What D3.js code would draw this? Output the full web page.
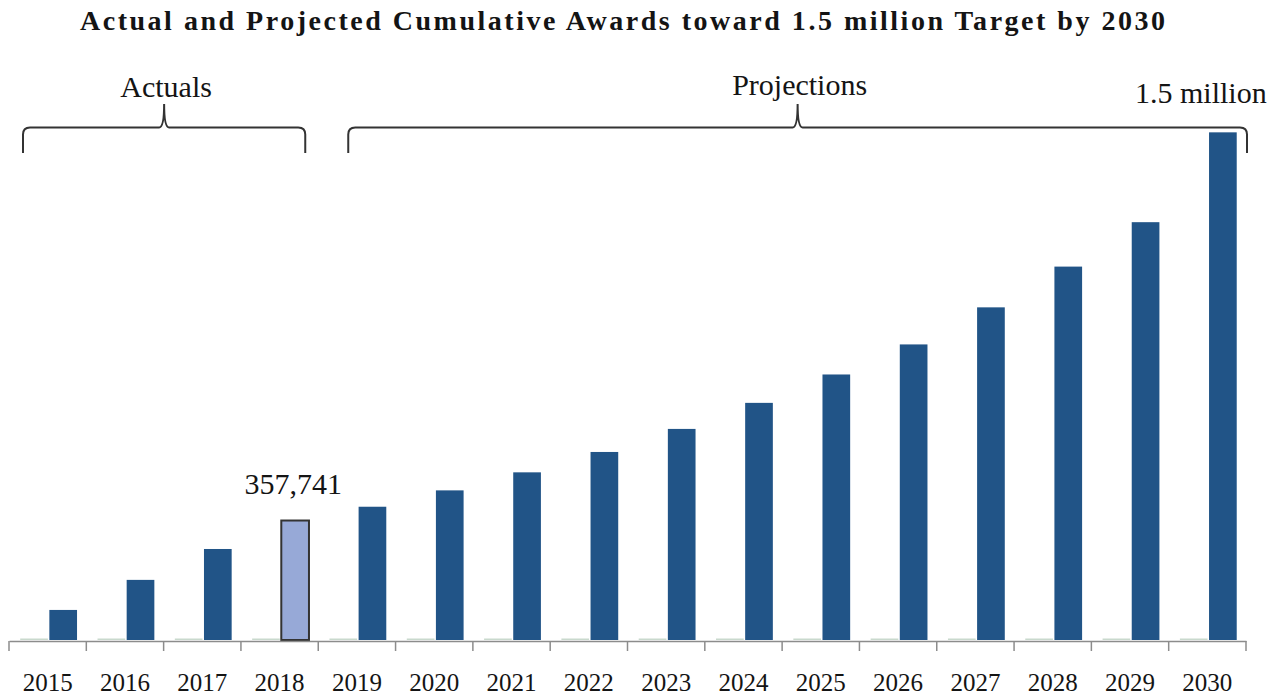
<!DOCTYPE html>
<html>
<head>
<meta charset="utf-8">
<script src="https://cdn.jsdelivr.net/npm/d3@7/dist/d3.min.js"></script>
<style>
  body { margin: 0; background: #fff; }
  text { font-family: 'Liberation Serif', 'Times New Roman', serif; fill: #141414; }
</style>
</head>
<body>
<script>
/* global d3 */

// Constants
const width = 1286;
const height = 696;

const titleText = 'Actual and Projected Cumulative Awards toward 1.5 million Target by 2030';

// Data
const years = ['2015', '2016', '2017', '2018', '2019', '2020', '2021', '2022',
  '2023', '2024', '2025', '2026', '2027', '2028', '2029', '2030'];
const awards = [90000, 180000, 272500, 357741, 399000, 448000, 502000, 563000,
  632000, 710000, 795000, 885000, 996000, 1118000, 1251000, 1520000];
const baseline = [0, 0, 0, 0, 0, 0, 0, 0, 0, 0, 0, 0, 0, 0, 0, 0];
const seriesNames = ['base', 'awards'];
const groupLabels = ['Actuals', 'Projections'];
const groupFrom = ['2015', '2019'];
const groupTo = ['2018', '2030'];
const lastActual = '2018';
const lastActualLabel = '357,741';
const targetLabel = '1.5 million';

const svg = d3.select('body')
  .append('svg')
  .attr('width', width)
  .attr('height', height);

// Title
svg.append('text')
  .attr('x', 80)
  .attr('y', 30)
  .attr('font-size', '28px')
  .attr('font-weight', 'bold')
  .attr('textLength', 1085)
  .attr('lengthAdjust', 'spacing')
  .text(titleText);

// Scales
const x0 = d3.scaleBand()
  .domain(years)
  .range([9, 1246])
  .padding(0);

const bw = x0.bandwidth();
const x1 = d3.scaleBand()
  .domain(seriesNames)
  .range([bw * 0.145, bw * 0.88])
  .paddingInner(0.05);

const y = d3.scaleLinear()
  .domain([0, 1527000])
  .range([640, 130]);

const rows = years.map((yr, i) => ({ year: yr, base: baseline[i], awards: awards[i] }));

// Bars
const groups = svg.append('g')
  .selectAll('g')
  .data(rows)
  .join('g')
  .attr('transform', (d) => `translate(${x0(d.year)},0)`);

groups.append('rect')
  .attr('x', x1('base'))
  .attr('y', (d) => y(d.base) - 1.5)
  .attr('width', x1.bandwidth())
  .attr('height', (d) => y(0) - y(d.base) + 1.5)
  .attr('fill', '#c9d9cd');

groups.append('rect')
  .attr('x', x1('awards'))
  .attr('y', (d) => y(d.awards))
  .attr('width', x1.bandwidth())
  .attr('height', (d) => y(0) - y(d.awards))
  .attr('fill', (d) => (d.year === lastActual ? '#97a9d7' : '#215487'))
  .attr('stroke', (d) => (d.year === lastActual ? '#333' : 'none'))
  .attr('stroke-width', 2);

// Axis
const xAxis = d3.axisBottom(x0)
  .tickSizeInner(0)
  .tickSizeOuter(0)
  .tickPadding(32);

const xAxisG = svg.append('g')
  .attr('transform', 'translate(0,641)')
  .call(xAxis);

xAxisG.select('.domain').attr('stroke', '#8c8c8c').attr('stroke-width', 1.5);
xAxisG.selectAll('text')
  .attr('font-size', '25px')
  .attr('font-family', "'Liberation Serif', serif")
  .attr('fill', '#141414');

xAxisG.selectAll('.bound')
  .data(years.concat(['end']))
  .join('line')
  .attr('class', 'bound')
  .attr('x1', (d) => (d === 'end' ? x0.range()[1] : x0(d)))
  .attr('x2', (d) => (d === 'end' ? x0.range()[1] : x0(d)))
  .attr('y1', 0)
  .attr('y2', 10)
  .attr('stroke', '#8c8c8c')
  .attr('stroke-width', 1.5);

// Value labels
svg.append('text')
  .attr('x', x0(lastActual) + x1('awards') + x1.bandwidth() / 2 - 2)
  .attr('y', y(awards[years.indexOf(lastActual)]) - 27)
  .attr('text-anchor', 'middle')
  .attr('font-size', '30px')
  .text(lastActualLabel);

svg.append('text')
  .attr('x', x0('2030') + x1('awards') + x1.bandwidth() / 2 - 22)
  .attr('y', 103)
  .attr('text-anchor', 'middle')
  .attr('font-size', '30px')
  .text(targetLabel);

// Brackets
function bracket(left, right, yh, yend, ypeak) {
  const mid = (left + right) / 2;
  const r = 7;
  return `M${left},${yend} L${left},${yh + r} Q${left},${yh} ${left + r},${yh}`
    + ` L${mid - 5},${yh} Q${mid},${yh} ${mid},${ypeak}`
    + ` Q${mid},${yh} ${mid + 5},${yh} L${right - r},${yh}`
    + ` Q${right},${yh} ${right},${yh + r} L${right},${yend}`;
}

const bracketLeft = [x0(groupFrom[0]) + 14, x0(groupFrom[1]) + 30];
const bracketRight = [x0(groupTo[0]) + bw - 13, x0(groupTo[1]) + bw + 1];
const labelY = [97, 95];

groupLabels.forEach((label, i) => {
  svg.append('path')
    .attr('d', bracket(bracketLeft[i], bracketRight[i], 127.5, 153, 104))
    .attr('fill', 'none')
    .attr('stroke', '#333')
    .attr('stroke-width', 2);

  svg.append('text')
    .attr('x', (bracketLeft[i] + bracketRight[i]) / 2 + 2)
    .attr('y', labelY[i])
    .attr('text-anchor', 'middle')
    .attr('font-size', '30px')
    .text(label);
});
</script>
</body>
</html>
